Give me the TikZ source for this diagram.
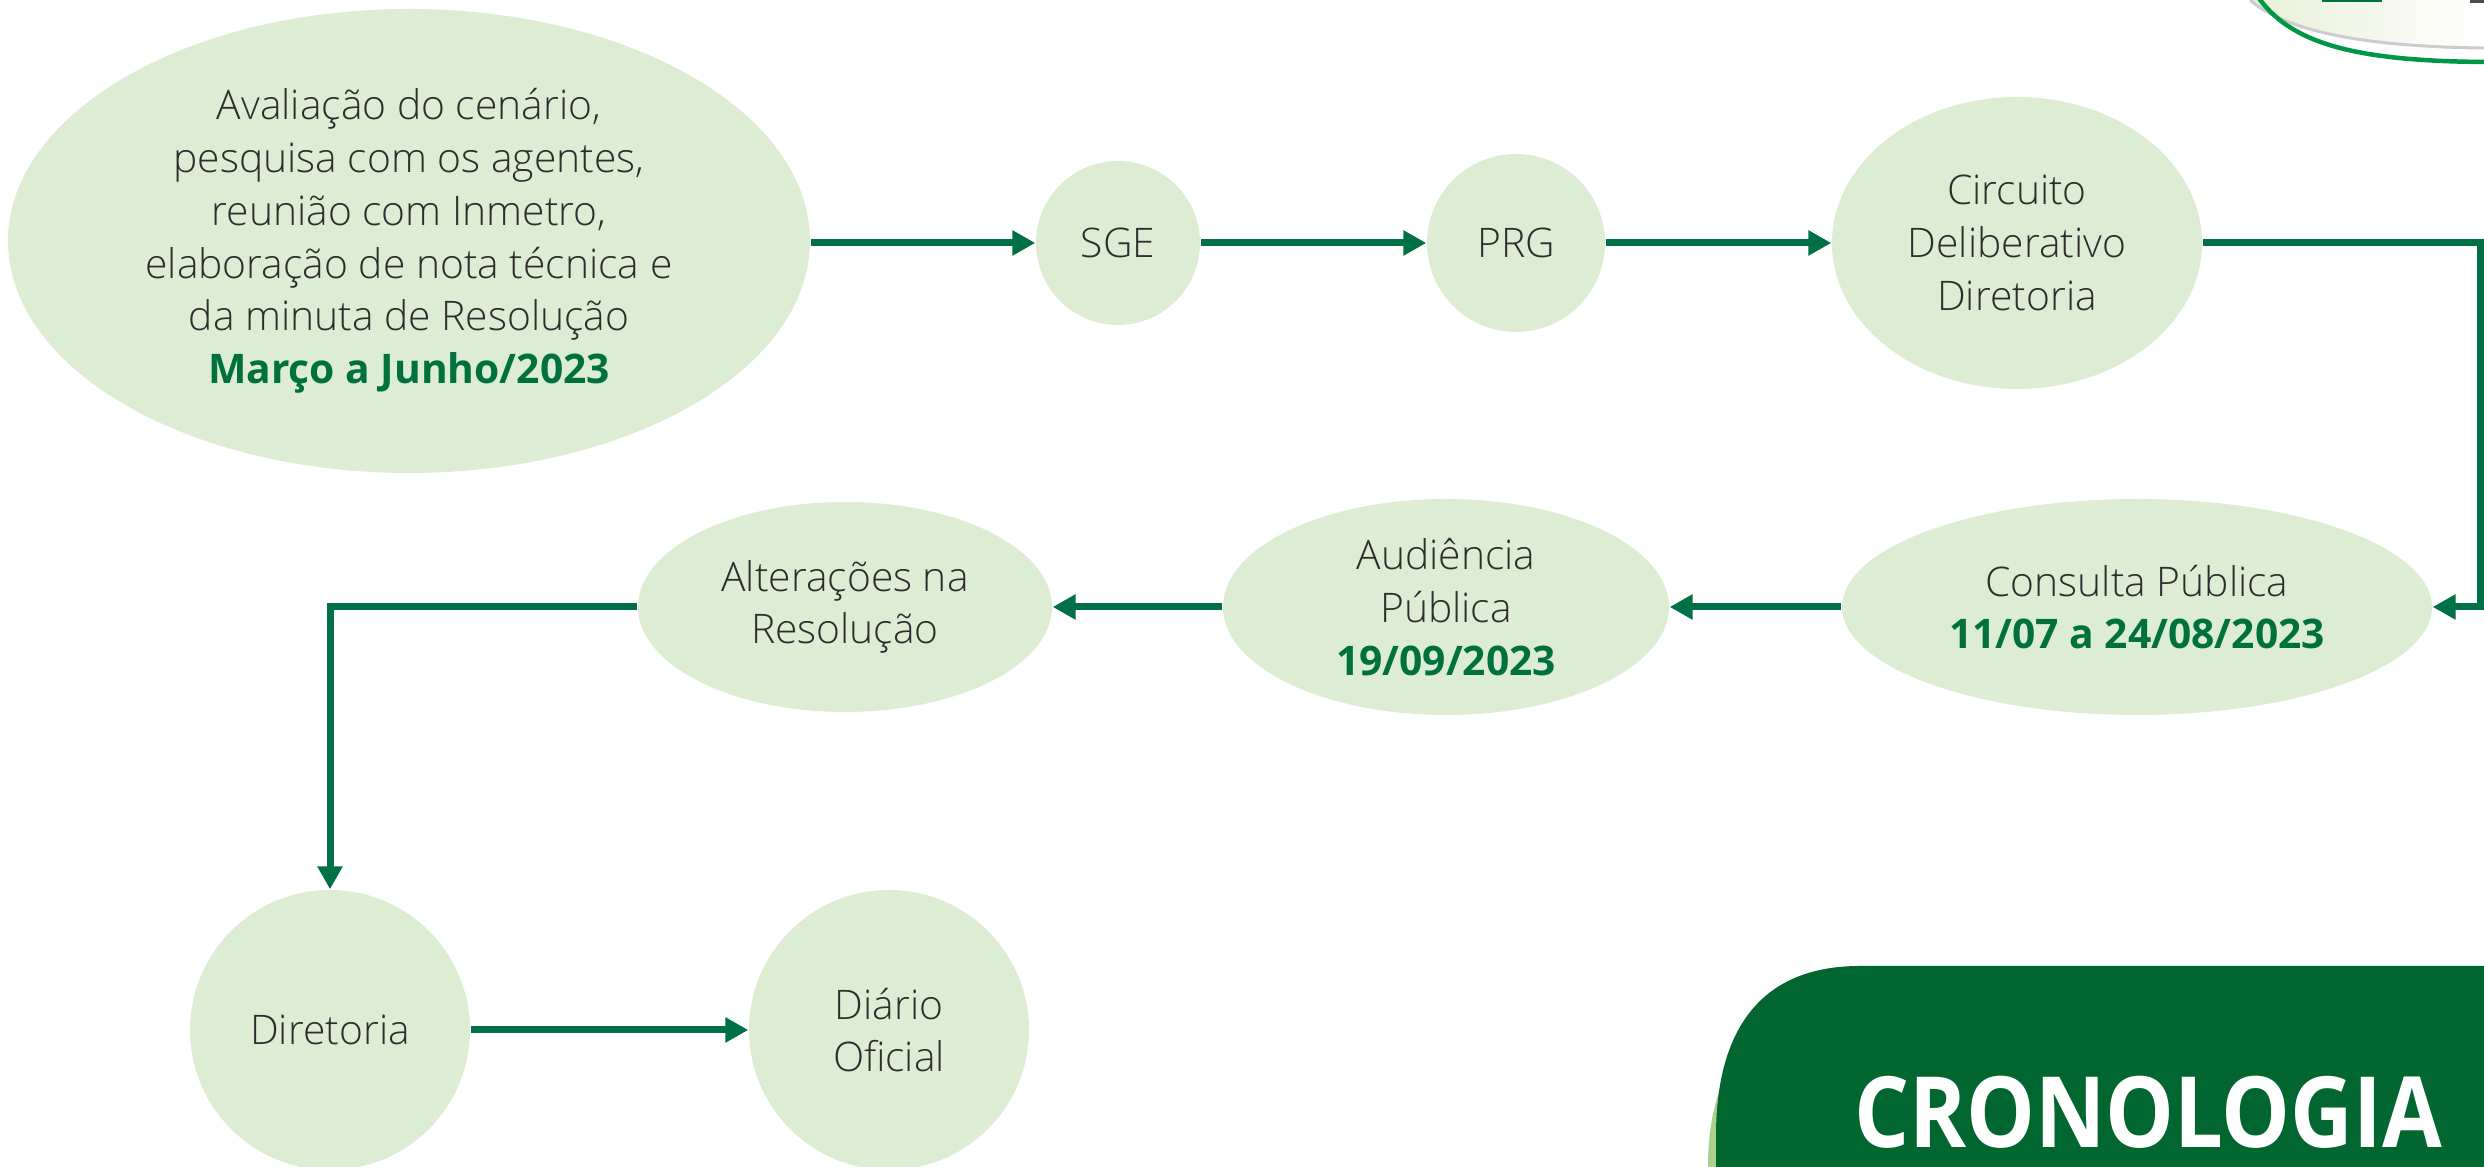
\documentclass[tikz,border=0pt]{standalone}
\usepackage{fontspec}
\setmainfont{Open Sans Light}[BoldFont={Open Sans}]
\newfontfamily\headfont{Open Sans}
\usetikzlibrary{arrows.meta,shapes.geometric}
\definecolor{bubblefill}{RGB}{221,237,211}
\definecolor{flowgreen}{RGB}{0,112,70}
\definecolor{darkgreen}{RGB}{2,102,48}
\definecolor{txtgray}{RGB}{45,45,45}
\definecolor{dategreen}{RGB}{0,112,60}
\definecolor{leafpale}{RGB}{232,240,214}
\definecolor{leafline}{RGB}{0,150,70}
\definecolor{leaflight}{RGB}{169,209,142}
\def\datum#1{{\color{dategreen}\headfont\bfseries #1}}

\begin{document}
\begin{tikzpicture}[
		bubble/.style={ellipse, fill=bubblefill, inner sep=0pt, align=center, text=txtgray, font=\fontsize{11.6}{15}\selectfont},
		flow/.style={draw=flowgreen, line width=0.07cm, -{Triangle[length=0.23cm,width=0.24cm]}}
	]
		%%%%% START %%%%%
		\useasboundingbox (0, 0) rectangle (24.84, 11.67);
		
		\shade[left color=leafpale, right color=white] (22.50, 11.67) .. controls (22.9, 11.32) and (23.8, 11.2) .. (24.84, 11.19) -- (24.84, 11.67) -- cycle;
		\draw[black!20, line width=0.03cm] (22.50, 11.67) .. controls (22.9, 11.32) and (23.8, 11.2) .. (24.84, 11.19);
		\draw[leafline, line width=0.045cm] (22.58, 11.70) .. controls (22.9, 11.25) and (23.5, 11.06) .. (24.84, 11.05);
		\fill[flowgreen] (23.22, 11.67) rectangle (23.82, 11.645);
		\fill[black!70] (24.70, 11.67) rectangle (24.84, 11.64);
		
		\node[bubble, minimum width=8.02cm, minimum height=4.64cm] (aval) at (4.09, 9.26) {Avaliação do cenário,\\pesquisa com os agentes,\\reunião com Inmetro,\\elaboração de nota técnica e\\da minuta de Resolução\\\datum{Março a Junho/2023}};
		\node[bubble, minimum size=1.64cm] (sge) at (11.18, 9.24) {SGE};
		\node[bubble, minimum size=1.78cm] (prg) at (15.16, 9.24) {PRG};
		\node[bubble, minimum width=3.70cm, minimum height=2.92cm] (circ) at (20.17, 9.24) {Circuito\\Deliberativo\\Diretoria};
		
		\node[bubble, minimum width=5.90cm, minimum height=2.16cm] (cons) at (21.37, 5.60) {Consulta Pública\\\datum{11/07 a 24/08/2023}};
		\node[bubble, minimum width=4.46cm, minimum height=2.16cm] (aud) at (14.46, 5.60) {Audiência\\Pública\\\datum{19/09/2023}};
		\node[bubble, minimum width=4.14cm, minimum height=2.10cm] (alt) at (8.45, 5.60) {Alterações na\\Resolução};
		
		\node[bubble, minimum size=2.80cm] (dir) at (3.30, 1.37) {Diretoria};
		\node[bubble, minimum size=2.80cm] (dof) at (8.89, 1.37) {Diário\\Oficial};
		
		\draw[flow] (aval.east |- sge.west) -- (sge.west);
		\draw[flow] (sge.east) -- (prg.west);
		\draw[flow] (prg.east) -- (circ.west);
		\draw[flow] (circ.east) -- ++(2.78, 0) |- (cons.east);
		\draw[flow] (cons.west) -- (aud.east);
		\draw[flow] (aud.west) -- (alt.east);
		\draw[flow] (alt.west) -| (dir.north);
		\draw[flow] (dir.east) -- (dof.west);
		
		\fill[leaflight] (17.08, 0) .. controls (17.08, 0.9) and (17.45, 1.61) .. (18.52, 1.61) -- (24.84, 1.61) -- (24.84, 0) -- cycle;
		\fill[darkgreen] (17.16, 0) -- (17.16, 0.31) .. controls (17.16, 1.3) and (17.55, 2.01) .. (18.60, 2.01) -- (24.84, 2.01) -- (24.84, 0) -- cycle;
		\node[anchor=base, text=white, font=\headfont\bfseries\fontsize{28}{28}\selectfont, inner sep=0pt] (title) at (21.48, 0.19) {\scalebox{0.88}[1]{CRONOLOGIA}};
		%%%%% END %%%%%
	\end{tikzpicture}
\end{document}
